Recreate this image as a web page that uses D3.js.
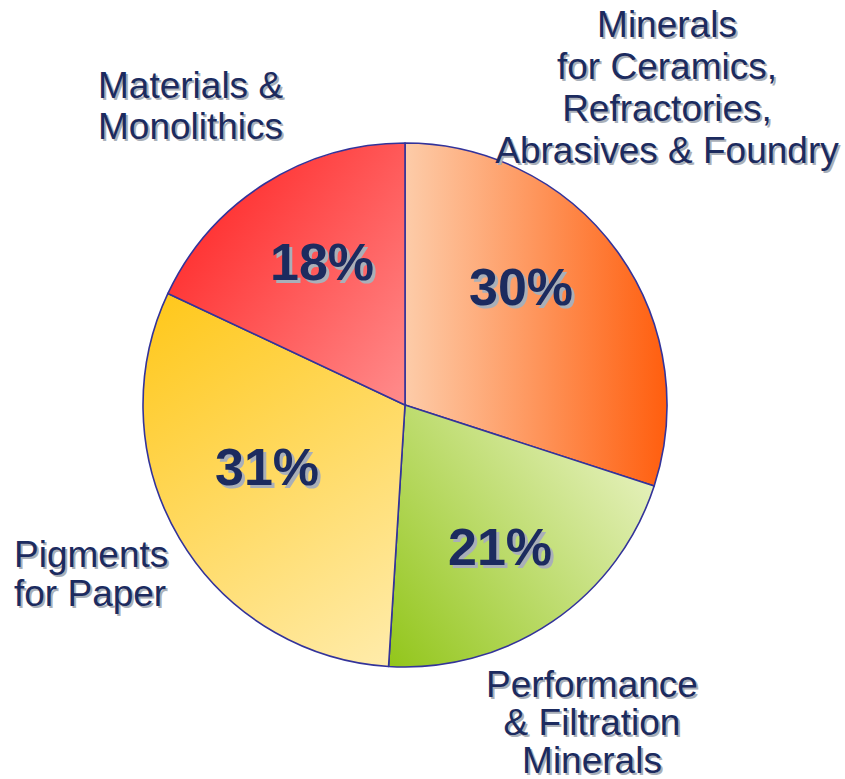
<!DOCTYPE html>
<html>
<head>
<meta charset="utf-8">
<script src="https://cdn.jsdelivr.net/npm/d3@7"></script>
<style>
  html, body { margin: 0; padding: 0; background: #ffffff; }
  svg { display: block; }
</style>
</head>
<body>
<svg id="chart" width="845" height="779"></svg>
<script>
// Market segments, clockwise from 12 o'clock
const categories = [
  "Minerals for Ceramics, Refractories, Abrasives & Foundry",
  "Performance & Filtration Minerals",
  "Pigments for Paper",
  "Materials & Monolithics"
];
const shares = [30, 21, 31, 18];
const labelLines = [
  ["Minerals", "for Ceramics,", "Refractories,", "Abrasives & Foundry"],
  ["Performance", "& Filtration", "Minerals"],
  ["Pigments", "for Paper"],
  ["Materials &", "Monolithics"]
];

// Gradient stops (start -> end) per slice
const gradStart = ["#fdcaa6", "#e6f1bd", "#ffc81c", "#ff3636"];
const gradEnd   = ["#ff5e0e", "#93c61c", "#ffeba8", "#ff8c8c"];

const W = 845, H = 779;
const cx = 405, cy = 405, R = 262;

// Gradient directions in radii, relative to the pie centre
const gradDir = [
  [[0.02, 0], [1, 0]],
  [[0.95, 0.25], [-0.05, 1.0]],
  [[-0.95, -0.4], [-0.05, 0.95]],
  [[-0.8, -0.6], [0.0, 0.0]]
];
// Percentage label centres relative to pie centre
const pctPos = [[116, -118], [95, 142], [-138, 62], [-83, -143]];
// Category label anchor points, alignment and line spacing
const labelPos = [
  { x: 667, y: 37, anchor: "middle", lh: 42 },
  { x: 592, y: 697, anchor: "middle", lh: 38 },
  { x: 14, y: 567, anchor: "start", lh: 39 },
  { x: 98, y: 98, anchor: "start", lh: 41 }
];

const textColor = "#1c2b5f";
const shadowColor = "#a9afb8";
const fontFamily = "Arial, 'Liberation Sans', Helvetica, sans-serif";

const svg = d3.select("#chart");
const defs = svg.append("defs");

categories.forEach((c, i) => {
  const g = defs.append("linearGradient")
    .attr("id", "grad" + i)
    .attr("gradientUnits", "userSpaceOnUse")
    .attr("x1", gradDir[i][0][0] * R)
    .attr("y1", gradDir[i][0][1] * R)
    .attr("x2", gradDir[i][1][0] * R)
    .attr("y2", gradDir[i][1][1] * R);
  g.append("stop").attr("offset", "0%").attr("stop-color", gradStart[i]);
  g.append("stop").attr("offset", "100%").attr("stop-color", gradEnd[i]);
});

const pie = d3.pie().sort(null).value(d => d).startAngle(0).endAngle(2 * Math.PI);
const arcs = pie(shares);
const arc = d3.arc().innerRadius(0).outerRadius(R);

const gPie = svg.append("g").attr("transform", `translate(${cx},${cy})`);

gPie.selectAll("path.slice")
  .data(arcs)
  .join("path")
  .attr("class", "slice")
  .attr("d", arc)
  .attr("fill", (d, i) => `url(#grad${i})`)
  .attr("stroke", "#33339a")
  .attr("stroke-width", 1.6)
  .attr("stroke-linejoin", "round");

// Percentage labels with drop shadow
const pct = gPie.selectAll("g.pct")
  .data(arcs)
  .join("g")
  .attr("class", "pct")
  .attr("transform", (d, i) => `translate(${pctPos[i][0]},${pctPos[i][1]})`);

[[3, 3, shadowColor], [0, 0, textColor]].forEach(([dx, dy, col]) => {
  pct.append("text")
    .attr("x", dx)
    .attr("y", dy)
    .attr("text-anchor", "middle")
    .attr("dominant-baseline", "central")
    .attr("font-family", fontFamily)
    .attr("font-weight", "bold")
    .attr("font-size", 52)
    .attr("fill", col)
    .text(d => d.data + "%");
});

// Category labels with drop shadow
labelLines.forEach((lines, i) => {
  const p = labelPos[i];
  [[2, 2, shadowColor], [0, 0, textColor]].forEach(([dx, dy, col]) => {
    const t = svg.append("text")
      .attr("text-anchor", p.anchor)
      .attr("font-family", fontFamily)
      .attr("font-size", 37)
      .attr("fill", col);
    lines.forEach((ln, k) => {
      t.append("tspan")
        .attr("x", p.x + dx)
        .attr("y", p.y + dy + k * p.lh)
        .text(ln);
    });
  });
});
</script>
</body>
</html>
